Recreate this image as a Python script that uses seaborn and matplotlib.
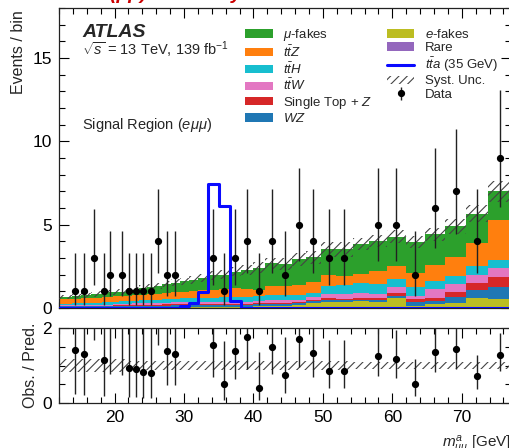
import numpy as np
import pandas as pd
import matplotlib
matplotlib.use("Agg")
import matplotlib.pyplot as plt
import seaborn as sns
from matplotlib.patches import Patch
from matplotlib.lines import Line2D
from matplotlib.ticker import MultipleLocator, FixedLocator

# ---------------- data ----------------
bin_edges = [12.00, 12.21, 12.76, 13.33, 13.93, 14.55, 15.20, 15.89, 16.60, 17.34,
             18.12, 18.93, 19.78, 20.67, 21.60, 22.57, 23.58, 24.64, 25.74, 26.90,
             28.10, 29.36, 30.68, 32.05, 33.49, 34.99, 36.56, 38.20, 39.92, 41.71,
             43.58, 45.53, 47.57, 49.71, 51.94, 54.27, 56.70, 59.24, 61.90, 64.68,
             67.58, 70.61, 73.77, 77.08]

rare = [0.01] * 25 + [0.02] * 7 + [0.03] * 5 + [0.04] * 3 + [0.05] * 3
e_fakes = [0.02] * 12 + [0.03] * 6 + [0.04] * 2 + [0.05] * 2 + [0.06] * 6 + \
          [0.10, 0.12, 0.12, 0.15, 0.27, 0.35, 0.32, 0.37, 0.32, 0.54, 0.07, 0.17, 0.22, 0.53, 0.50]
wz = [0.06] * 6 + [0.07] * 6 + [0.08] * 4 + [0.09] * 4 + [0.10] * 16 + \
     [0.15, 0.14, 0.25, 0.20, 0.40, 0.52, 0.72]
single_top_z = [0.03] * 8 + [0.04] * 4 + [0.05] * 3 + [0.06] * 4 + [0.07] * 10 + [0.08] * 3 + \
               [0.10, 0.09, 0.10, 0.10, 0.10, 0.16, 0.15, 0.20, 0.28, 0.40, 0.60]
ttw = [0.03] * 3 + [0.04] * 4 + [0.05] * 3 + [0.06] * 2 + [0.07] * 2 + [0.08, 0.09] + [0.10] * 10 + \
      [0.11, 0.11, 0.12, 0.13, 0.13, 0.14, 0.15, 0.25, 0.30, 0.30, 0.25, 0.38, 0.18, 0.55, 0.46, 0.50, 0.50]
tth = [0.10] * 4 + [0.11] * 3 + [0.12] * 2 + [0.13] * 2 + [0.14] * 2 + [0.15, 0.16, 0.17, 0.17, 0.18, 0.19,
      0.21, 0.23, 0.25, 0.27, 0.28, 0.28, 0.28, 0.30, 0.30, 0.28, 0.30, 0.30, 0.31, 0.23, 0.50, 0.55,
      0.60, 0.60, 0.49, 0.57, 0.45, 0.50, 0.50, 0.50]
ttz = [0.27, 0.28, 0.28, 0.28, 0.29, 0.29] + [0.30] * 5 + [0.31] * 3 + [0.32] * 2 + \
      [0.33, 0.34, 0.35, 0.36, 0.37, 0.38, 0.40, 0.45, 0.48, 0.50, 0.52, 0.50, 0.38, 0.55, 0.55,
       0.60, 0.69, 0.68, 0.50, 0.55, 0.75, 0.75, 0.85, 1.00, 1.15, 1.40, 2.40]
mu_fakes = [0.12, 0.12, 0.13, 0.14, 0.15, 0.17, 0.18, 0.18, 0.21, 0.23, 0.25, 0.28, 0.28, 0.25,
            0.35, 0.34, 0.43, 0.45, 0.50, 0.57, 0.59, 0.64, 0.67, 0.73, 0.85, 0.87, 1.00, 1.12,
            1.35, 1.38, 1.35, 1.52, 1.46, 1.52, 1.62, 1.80, 1.80, 1.78, 1.84, 1.81, 1.84, 1.75, 1.73]
signal_tta = [0.0] * 21 + [0.10, 0.28, 0.94, 7.47, 6.10, 0.40] + [0.0] * 16
data_obs = [0, 0, 0, 0, 1, 0, 1, 0, 3, 0, 1, 2, 0, 2, 1, 1, 1, 1, 4, 2, 2, 0, 0, 0, 3, 1, 3, 4,
            1, 4, 2, 5, 4, 3, 3, 0, 5, 5, 2, 6, 7, 4, 9]
syst_rel = [0.18] * 14 + [0.13] * 21 + [0.09] * 8
# Poisson (Garwood) 68% interval bounds for n = 0..9
poisson_lo = [0.00, 0.17, 0.71, 1.37, 2.09, 2.84, 3.62, 4.42, 5.23, 6.06]
poisson_hi = [1.84, 3.30, 4.64, 5.92, 7.16, 8.38, 9.58, 10.77, 11.95, 13.11]

processes = {
    r"$\mu$-fakes": (mu_fakes, "#2ca02c"),
    r"$t\bar{t}Z$": (ttz, "#ff7f0e"),
    r"$t\bar{t}H$": (tth, "#17becf"),
    r"$t\bar{t}W$": (ttw, "#e377c2"),
    r"Single Top + $Z$": (single_top_z, "#d62728"),
    r"$WZ$": (wz, "#1f77b4"),
    r"$e$-fakes": (e_fakes, "#bcbd22"),
    "Rare": (rare, "#9467bd"),
}

# ---------------- style ----------------
sns.set_theme(style="ticks")
plt.rcParams["font.family"] = ["Liberation Sans", "DejaVu Sans"]
plt.rcParams["mathtext.fontset"] = "custom"
plt.rcParams["mathtext.rm"] = "Liberation Sans"
plt.rcParams["mathtext.it"] = "Liberation Sans:italic"
plt.rcParams["mathtext.bf"] = "Liberation Sans:bold"
plt.rcParams["hatch.linewidth"] = 0.8

edges = np.array(bin_edges)
centers = 0.5 * (edges[:-1] + edges[1:])
rows = []
for name, (vals, col) in processes.items():
    for c, v in zip(centers, vals):
        rows.append({"x": c, "w": v, "process": name})
df = pd.DataFrame(rows)
order = list(processes.keys())
palette = {k: v[1] for k, v in processes.items()}

total = np.zeros(len(centers))
for vals, _ in processes.values():
    total += np.array(vals)
srel = np.array(syst_rel)
unc = total * srel
data = np.array(data_obs)

fig = plt.figure(figsize=(5.10, 4.48), dpi=100)
W, H = 510.0, 448.0
ax = fig.add_axes([59 / W, (H - 308) / H, (511 - 59) / W, 300 / H])
axr = fig.add_axes([59 / W, (H - 403) / H, (511 - 59) / W, 75 / H], sharex=ax)

# stacked backgrounds
sns.histplot(data=df, x="x", weights="w", hue="process", hue_order=order, bins=bin_edges,
             multiple="stack", element="step", fill=True, linewidth=0, alpha=1,
             palette=palette, legend=False, ax=ax)
# signal
sns.histplot(x=centers, weights=signal_tta, bins=bin_edges, element="step", fill=False,
             color="#0a0aff", linewidth=2.2, ax=ax, zorder=5)

# syst band
ax.fill_between(edges, np.r_[total - unc, (total - unc)[-1]], np.r_[total + unc, (total + unc)[-1]],
                step="post", hatch="////", facecolor="none", edgecolor="#444444", linewidth=0, zorder=4)

# data
m = data > 0
lo = np.array([poisson_lo[n] for n in data])
hi = np.array([poisson_hi[n] for n in data])
eb = ax.errorbar(centers[m], data[m], yerr=[data[m] - lo[m], hi[m] - data[m]], fmt="o",
                 color="black", ecolor="#222222", ms=4.2, elinewidth=1.0, capsize=0, zorder=10)

# ratio
ratio = data / total
axr.fill_between(edges, np.r_[1 - srel, 1 - srel[-1]], np.r_[1 + srel, 1 + srel[-1]],
                 step="post", hatch="////", facecolor="none", edgecolor="#444444", linewidth=0)
axr.errorbar(centers[m], ratio[m], yerr=[(data[m] - lo[m]) / total[m], (hi[m] - data[m]) / total[m]],
             fmt="o", color="black", ecolor="#222222", ms=4.2, elinewidth=1.0, capsize=0, zorder=10)

# axes setup
ax.set_xlim(12, 77.08)
ax.set_ylim(0, 18)
axr.set_ylim(0, 2)
ax.yaxis.set_major_locator(FixedLocator([0, 5, 10, 15]))
ax.yaxis.set_minor_locator(MultipleLocator(1))
ax.xaxis.set_major_locator(MultipleLocator(10))
ax.xaxis.set_minor_locator(MultipleLocator(2))
axr.yaxis.set_major_locator(FixedLocator([0, 2]))
axr.yaxis.set_minor_locator(MultipleLocator(0.5))
for a in (ax, axr):
    a.tick_params(which="both", direction="in", top=True, right=True, colors="black",
                  labelsize=12.5, width=0.8)
    a.tick_params(which="major", length=7.5, pad=5)
    a.tick_params(which="minor", length=4)
    for s in a.spines.values():
        s.set_linewidth(0.9)
        s.set_color("#222222")
ax.tick_params(labelbottom=False)
ax.set_xlabel("")
ax.set_ylabel("Events / bin", loc="top", fontsize=11.5, labelpad=5)
ax.yaxis.label.set_position((0, (300 - 2) / 300))
axr.set_ylabel("Obs. / Pred.", fontsize=11.5, labelpad=3)
axr.set_xlabel(r"$m^{a}_{\mu\mu}$ [GeV]", loc="right", fontsize=11, labelpad=6)

# labels
ax.text((82 - 59) / 452, (308 - 24) / 300, "ATLAS", transform=ax.transAxes, fontsize=14,
        fontweight="bold", fontstyle="italic", va="top", ha="left")
ax.text((82 - 59) / 452, (308 - 50) / 300, r"$\sqrt{s}$ = 13 TeV, 139 fb$^{-1}$", transform=ax.transAxes,
        fontsize=10.5, va="center", ha="left")
ax.text((82 - 59) / 452, (308 - 125) / 300, r"Signal Region ($e\mu\mu$)", transform=ax.transAxes,
        fontsize=10.5, va="center", ha="left")

handles = [Patch(facecolor=palette[k], edgecolor="none") for k in order]
handles += [Line2D([], [], color="#0a0aff", lw=2.2),
            Patch(facecolor="none", edgecolor="#444444", hatch="////", linewidth=0),
            eb]
labels = order + [r"$t\bar{t}a$ (35 GeV)", "Syst. Unc.", "Data"]
ax.legend(handles, labels, ncol=2, loc="upper left", bbox_to_anchor=((245 - 59) / 452, (308 - 27) / 300),
          frameon=False, fontsize=9.5, handlelength=2.1, handleheight=0.62, handletextpad=0.8,
          columnspacing=1.1, labelspacing=0.1, borderpad=0, borderaxespad=0)

fig.text(110 / W, 1.0 + 1 / H, "(μμ) events by channel", color="#cc0000", fontsize=14,
         fontweight="bold", fontstyle="italic", va="baseline", ha="left")

fig.savefig("out.png", dpi=100)
